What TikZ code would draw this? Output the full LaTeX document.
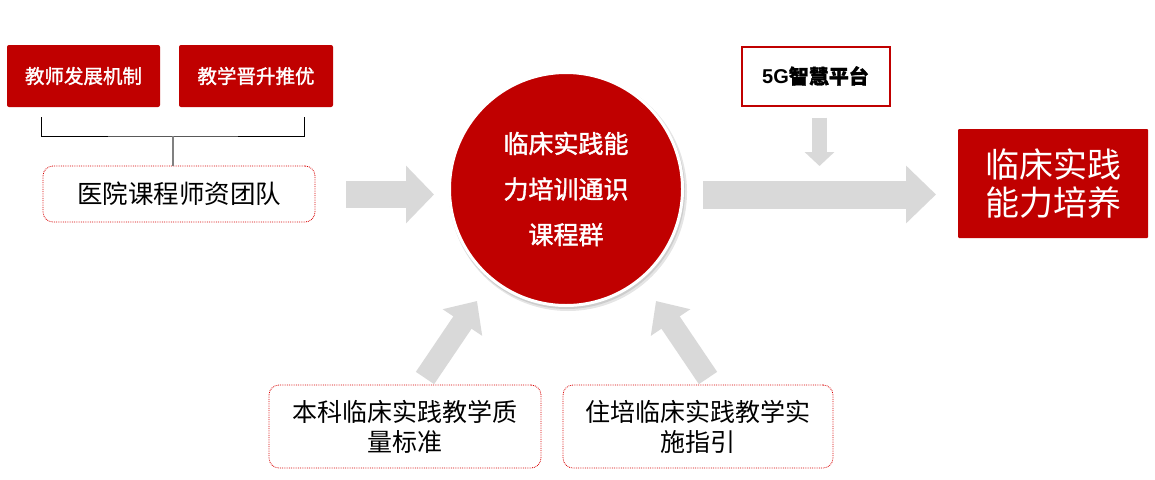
\documentclass[tikz,border=0pt]{standalone}
\usepackage{fontspec}
\usetikzlibrary{arrows.meta}
\newfontfamily\cjk{Noto Sans CJK SC}
\newfontfamily\cjkb{Noto Sans CJK SC}[FakeBold=1.5]
\newfontfamily\latb{Liberation Sans}
\definecolor{cRed}{HTML}{C00000}
\definecolor{cGray}{HTML}{D9D9D9}
\tikzset{
  redbox/.style={fill=cRed, rounded corners=2pt, text=white, inner sep=0pt, align=center},
  dotbox/.style={draw=red!85!black, densely dotted, line width=0.8pt, rounded corners=10pt, fill=white, inner sep=0pt, align=center, font=\cjk\fontsize{24}{30}\selectfont},
  grayarrow/.style={draw=cGray, line cap=butt},
}
\begin{document}
\begin{tikzpicture}[x=1pt,y=-1pt]
\useasboundingbox[fill=white] (0,0) rectangle (1155,479);

% top-left boxes
\node[redbox, minimum width=153pt, minimum height=62pt, font=\cjkb\fontsize{19.5}{22}\selectfont] (b1) at (83.5,76) {教师发展机制};
\node[redbox, minimum width=154pt, minimum height=62pt, font=\cjkb\fontsize{19.5}{22}\selectfont] (b2) at (256,76) {教学晋升推优};

% team box
\node[dotbox, minimum width=272pt, minimum height=56pt, font=\cjk\fontsize{25.5}{30}\selectfont] (team) at (179,194) {医院课程师资团队};

% bracket
\coordinate (bl) at (41,117);
\coordinate (br) at (304,117);
\coordinate (bm) at (173,136);
\draw[black, line width=0.9pt] (bl) |- (bm) -| (br);
\draw[gray, line width=2pt] (bm) -- (bm |- team.north);

% circle shadow and circle
\fill[black, opacity=0.10] (568,192) circle (119pt);
\fill[black, opacity=0.10] (567,191) circle (118pt);
\node[circle, fill=cRed, draw=white, line width=3pt, minimum size=233pt, inner sep=0pt, text=white, align=center,
      font=\cjkb\fontsize{25}{45.5}\selectfont] (core) at (566,189) {临床实践能\\力培训通识\\课程群};

% result box
\node[redbox, minimum width=190pt, minimum height=109pt, rounded corners=1pt, font=\cjk\fontsize{34}{38}\selectfont] (res) at (1053,183.5) {临床实践\\能力培养};

% 5G box
\node[draw=cRed, line width=2pt, fill=white, minimum width=148pt, minimum height=59pt, inner sep=0pt, font=\latb\bfseries\fontsize{20}{22}\selectfont] (fiveg) at (815.5,76) {5G{\cjkb 智慧平台}};

% bottom boxes
\node[dotbox, minimum width=272pt, minimum height=83pt, font=\cjk\fontsize{25}{30}\selectfont] (ug) at (405,426.5) {本科临床实践教学质\\量标准};
\node[dotbox, minimum width=270pt, minimum height=83pt, font=\cjk\fontsize{25}{30}\selectfont] (rz) at (698,426.5) {住培临床实践教学实\\施指引};

% arrows
\coordinate (a1s) at (346,194.5);
\coordinate (a1e) at (434,194.5);
\draw[grayarrow, line width=27pt, -{Triangle[width=56pt,length=28pt]}] (a1s) -- (a1e);

\coordinate (a2s) at (703,194.5);
\coordinate (a2e) at (936,194.5);
\draw[grayarrow, line width=28pt, -{Triangle[width=56pt,length=30pt]}] (a2s) -- (a2e);

\coordinate (dj) at (819.5,166);
\draw[grayarrow, line width=15pt, shorten <=11pt, -{Triangle[width=29pt,length=14pt]}] (fiveg.south -| dj) -- (dj);

\coordinate (l1) at (425,378);
\coordinate (l2) at (477,301);
\draw[grayarrow, line width=22pt, -{Triangle[width=46pt,length=26pt]}] (l1) -- (l2);

\coordinate (r1) at (708,378);
\coordinate (r2) at (656,301);
\draw[grayarrow, line width=22pt, -{Triangle[width=46pt,length=26pt]}] (r1) -- (r2);
\end{tikzpicture}
\end{document}
